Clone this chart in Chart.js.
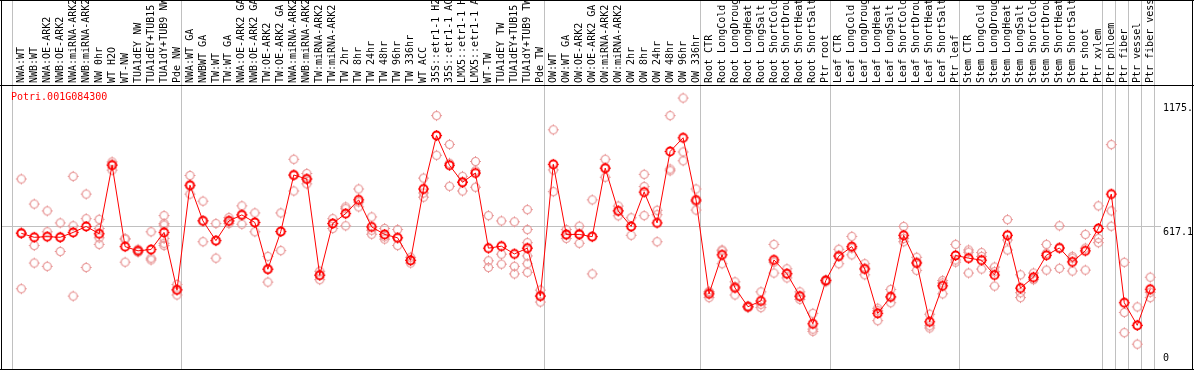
<!DOCTYPE html>
<html>
<head>
<meta charset="utf-8">
<script src="https://cdn.jsdelivr.net/npm/chart.js@4/dist/chart.umd.min.js"></script>
<style>
  body { margin: 0; background: #fff; }
</style>
</head>
<body>
<canvas id="chart" width="1194" height="370"></canvas>
<script>
const geneName = 'Potri.001G084300';

const labels = [
    'NWA:WT', 'NWB:WT', 'NWA:OE-ARK2', 'NWB:OE-ARK2', 'NWA:miRNA-ARK2', 'NWB:miRNA-ARK2',
    'NW 0hr', 'WT H2O', 'WT-NW', 'TUA1dEY NW', 'TUA1dEY+TUB15 NW', 'TUA1dY+TUB9 NW', 'Pde NW',
    'NWA:WT GA', 'NWBWT GA', 'TW:WT', 'TW:WT GA', 'NWA:OE-ARK2 GA', 'NWB:OE-ARK2 GA',
    'TW:OE-ARK2', 'TW:OE-ARK2 GA', 'NWA:miRNA-ARK2 GA', 'NWB:miRNA-ARK2 GA', 'TW:miRNA-ARK2',
    'TW:miRNA-ARK2 GA', 'TW 2hr', 'TW 8hr', 'TW 24hr', 'TW 48hr', 'TW 96hr', 'TW 336hr',
    'WT ACC', '35S::etr1-1 H2O', '35S::etr1-1 ACC', 'LMX5::etr1-1 H2O', 'LMX5::etr1-1 ACC',
    'WT-TW', 'TUA1dEY TW', 'TUA1dEY+TUB15 TW', 'TUA1dY+TUB9 TW', 'Pde TW',
    'OW:WT', 'OW:WT GA', 'OW:OE-ARK2', 'OW:OE-ARK2 GA', 'OW:miRNA-ARK2', 'OW:miRNA-ARK2 GA',
    'OW 2hr', 'OW 8hr', 'OW 24hr', 'OW 48hr', 'OW 96hr', 'OW 336hr',
    'Root CTR', 'Root LongCold', 'Root LongDrought', 'Root LongHeat', 'Root LongSalt',
    'Root ShortCold', 'Root ShortDrought', 'Root ShortHeat', 'Root ShortSalt', 'Ptr root',
    'Leaf CTR', 'Leaf LongCold', 'Leaf LongDrought', 'Leaf LongHeat', 'Leaf LongSalt',
    'Leaf ShortCold', 'Leaf ShortDrought', 'Leaf ShortHeat', 'Leaf ShortSalt', 'Ptr leaf',
    'Stem CTR', 'Stem LongCold', 'Stem LongDrought', 'Stem LongHeat', 'Stem LongSalt',
    'Stem ShortCold', 'Stem ShortDrought', 'Stem ShortHeat', 'Stem ShortSalt', 'Ptr shoot',
    'Ptr xylem', 'Ptr phloem', 'Ptr fiber', 'Ptr vessel', 'Ptr fiber vessel'
];

// mean expression per sample
const means = [
    585, 567, 570, 567, 589, 616, 583, 892, 525, 506, 512, 589, 330,
    802, 641, 552, 641, 668, 634, 423, 593, 848, 830, 396, 629, 674, 736, 614, 580, 565, 463,
    785, 1026, 892, 815, 857, 518, 527, 492, 518, 302,
    896, 580, 580, 570, 879, 686, 616, 771, 632, 954, 1016, 735,
    312, 488, 339, 254, 280, 465, 403, 302, 177, 372,
    482, 525, 424, 224, 299, 576, 451, 186, 348, 485,
    473, 464, 397, 576, 338, 387, 486, 519, 456, 506,
    607, 762, 272, 170, 333
];

// replicate values per sample
const reps = [
    [830, 589, 335], [717, 530, 451], [686, 592, 436], [632, 567, 503], [842, 619, 302],
    [762, 651, 431], [648, 607, 565, 535], [907, 897, 870], [562, 558, 455], [513, 506, 500],
    [592, 473, 465], [665, 629, 622, 562, 540, 530], [354, 330, 307],
    [846, 799, 762], [730, 643, 547], [629, 553, 473], [656, 641, 629], [709, 669, 626],
    [677, 634, 592], [481, 424, 365], [677, 593, 507], [919, 848, 776], [855, 830, 808],
    [414, 397, 376], [651, 629, 607], [704, 696, 619], [785, 726, 704], [659, 599, 581],
    [607, 570, 559], [602, 564, 530], [477, 464, 451],
    [834, 767, 748], [1116, 1026, 937], [986, 901, 797], [842, 818, 776], [909, 867, 793],
    [665, 461, 431], [641, 491, 446], [637, 436, 402], [692, 602, 543, 518, 483, 448, 409],
    [329, 303, 275],
    [1052, 871, 773], [602, 576, 562], [617, 585, 540], [736, 571, 402], [919, 879, 838],
    [708, 687, 664], [655, 616, 576], [851, 796, 665], [689, 669, 547], [1116, 875, 867],
    [1195, 952, 912], [785, 729, 690],
    [321, 321, 295], [510, 506, 448], [366, 345, 307], [257, 254, 250], [321, 265, 250],
    [535, 455, 406], [425, 402, 384], [321, 299, 287], [224, 153, 143], [376, 372, 366],
    [513, 486, 448], [571, 518, 488], [448, 428, 398], [247, 236, 191], [332, 295, 272],
    [616, 562, 547], [477, 455, 418], [220, 168, 158], [372, 361, 312], [535, 465, 455],
    [510, 500, 406], [498, 481, 424], [433, 412, 347], [647, 555, 510], [398, 317, 295],
    [406, 379, 376], [535, 495, 419], [619, 519, 427], [481, 473, 415], [580, 518, 419],
    [709, 562, 543], [985, 686, 617], [454, 228, 137], [253, 170, 85], [387, 319, 295]
];

// first sample of each group (separator drawn before it)
const groupStarts = [0, 13, 41, 53, 63, 73, 84, 85, 86, 87, 88];

const axisTicks = [0, 617.1, 1175];
const axisTickLabels = ['0', '617.1', '1175.'];
const meanLine = 617.1;

const repPoints = [];
reps.forEach((vals, i) => {
    vals.forEach(v => repPoints.push({ x: i, y: v }));
});

function makeMarker(color, lw) {
    const c = document.createElement('canvas');
    c.width = 13;
    c.height = 13;
    const g = c.getContext('2d');
    g.strokeStyle = color;
    g.fillStyle = color;
    g.lineWidth = lw;
    g.beginPath();
    g.arc(6.5, 6.5, 4, 0, Math.PI * 2);
    g.stroke();
    g.fillRect(6, 1, 1, 1);
    g.fillRect(6, 11, 1, 1);
    g.fillRect(1, 6, 1, 1);
    g.fillRect(11, 6, 1, 1);
    return c;
}

const font = '"DejaVu Sans Mono", "Liberation Mono", monospace';

const framePlugin = {
    id: 'frame',
    beforeDatasetsDraw(chart) {
        const ctx = chart.ctx;
        const xs = chart.scales.x;
        const ys = chart.scales.y;
        const area = chart.chartArea;
        ctx.save();
        ctx.fillStyle = '#c0c0c0';
        groupStarts.forEach(i => {
            const px = Math.round(xs.getPixelForValue(i - 0.7));
            ctx.fillRect(px, 0, 1, 370);
        });
        const py = Math.round(ys.getPixelForValue(meanLine));
        ctx.fillRect(2, py, area.right - 2, 1);
        ctx.restore();
    },
    afterDraw(chart) {
        const ctx = chart.ctx;
        const ys = chart.scales.y;
        const area = chart.chartArea;
        ctx.save();
        ctx.fillStyle = '#000';
        ctx.fillRect(0, 0, 1194, 1);
        ctx.fillRect(0, 85, 1194, 1);
        ctx.fillRect(0, 369, 1194, 1);
        ctx.fillRect(1, 0, 1, 370);
        ctx.fillRect(1192, 0, 1, 370);

        ctx.font = '10px ' + font;
        ctx.textAlign = 'left';
        axisTicks.forEach((v, k) => {
            ctx.textBaseline = v === 0 ? 'bottom' : 'top';
            ctx.fillText(axisTickLabels[k], area.right + 2, ys.getPixelForValue(v) + (v === 0 ? 0 : 1));
        });

        ctx.fillStyle = '#ff0000';
        ctx.textBaseline = 'top';
        ctx.fillText(geneName, area.left + 6, area.top + 6);
        ctx.restore();
    }
};

new Chart(document.getElementById('chart'), {
    type: 'scatter',
    data: {
        datasets: [{
            label: 'Replicates',
            data: repPoints,
            pointStyle: makeMarker('#e89696', 1.2),
            showLine: false,
            order: 2
        }, {
            label: 'Mean',
            data: means.map((v, i) => ({ x: i, y: v })),
            showLine: true,
            borderColor: '#ff0000',
            borderWidth: 1,
            pointStyle: makeMarker('#ff0000', 1.8),
            tension: 0,
            order: 1
        }]
    },
    options: {
        responsive: false,
        animation: false,
        devicePixelRatio: 1,
        layout: { padding: { left: 3, right: 33, top: 0, bottom: 2 } },
        plugins: {
            legend: { display: false },
            tooltip: { enabled: false }
        },
        scales: {
            x: {
                type: 'linear',
                position: 'top',
                min: -1.254,
                max: 87.83,
                afterBuildTicks: scale => {
                    scale.ticks = labels.map((l, i) => ({ value: i }));
                },
                afterFit: scale => { scale.height = 86; },
                grid: { display: false, drawTicks: false },
                border: { display: false },
                ticks: {
                    autoSkip: false,
                    minRotation: 90,
                    maxRotation: 90,
                    padding: 3,
                    labelOffset: 12,
                    color: '#000',
                    font: { family: font, size: 10 },
                    callback: value => labels[value]
                }
            },
            y: {
                display: false,
                min: -8.9,
                max: 1249.4
            }
        }
    },
    plugins: [framePlugin]
});
</script>
</body>
</html>
